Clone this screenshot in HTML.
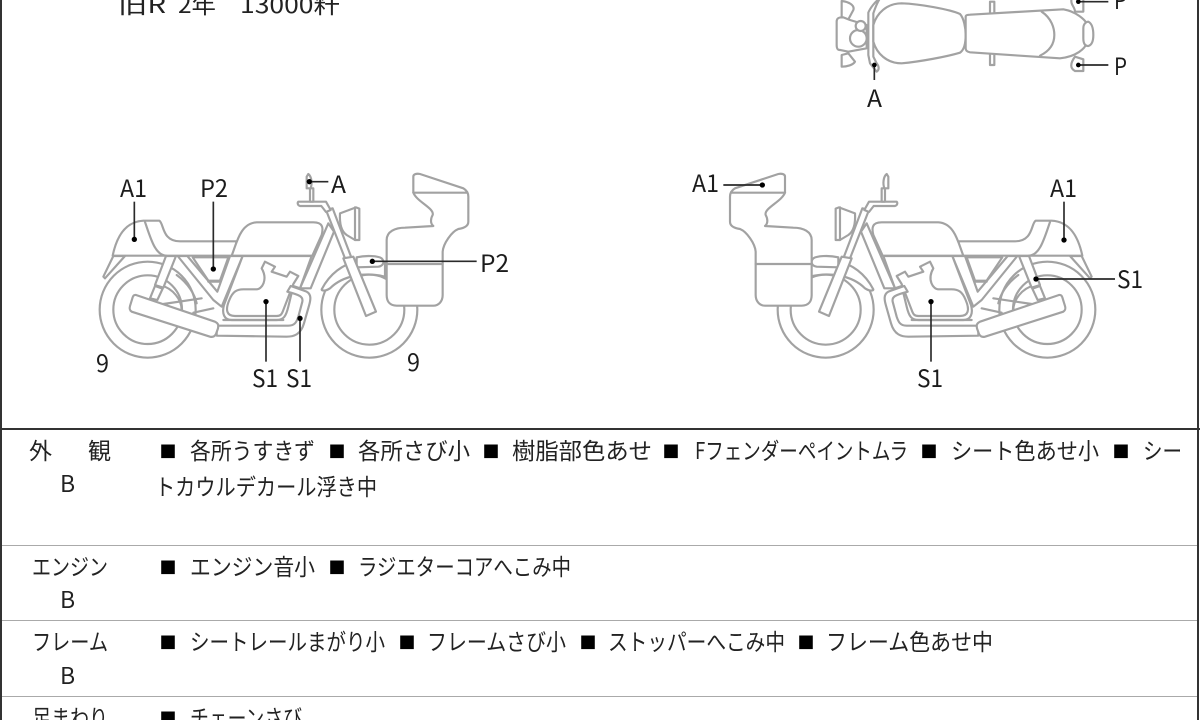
<!DOCTYPE html>
<html lang="ja"><head><meta charset="utf-8">
<style>
html,body{margin:0;padding:0;background:#fff;width:1200px;height:720px;overflow:hidden}
svg{display:block;filter:blur(.35px)}
text{font-family:"Liberation Sans","Noto Sans CJK JP",sans-serif;fill:#222}
.l{font-family:"Noto Sans CJK JP","Liberation Sans",sans-serif;font-size:24px;fill:#1c1c1c}
.t{font-family:"Noto Sans CJK JP",sans-serif;font-size:23px;font-weight:400;fill:#222}
.s{font-family:"Noto Sans CJK JP",sans-serif;font-size:17px;fill:#000}
.d path,.d circle,.d rect{fill:#fff;stroke:#a2a2a2;stroke-width:6.5;stroke-linejoin:round;stroke-linecap:round}
.d .n{fill:none}
.lead line{stroke:#2a2a2a;stroke-width:5}
.lead circle{fill:#000}
</style></head><body>
<svg width="1200" height="720" viewBox="0 0 1200 720" xmlns="http://www.w3.org/2000/svg">
<defs>
<g id="bike" class="d">
 <circle cx="203" cy="449" r="144"/><circle cx="203" cy="449" r="103"/>
 <circle cx="868" cy="449" r="144"/><circle cx="868" cy="449" r="105"/>
 <path class="n" d="M240,375C280,385 305,420 305,450"/>
 <path class="n" d="M290,345C325,370 345,405 350,430"/>
 <path d="M100,288L70,350L75,355L135,288Z"/>
 <path d="M258,288L288,288L250,383L225,375Z"/>
 <path d="M225,378L248,386L232,420L210,415Z"/>
 <path class="n" d="M250,432L365,415M340,458L400,445"/>
 <path d="M293,288L322,288L412,395L450,288L488,288L425,440L400,420Z"/>
 <path d="M338,292L445,292L420,362L385,362Z"/>
 <path class="n" d="M385,365L420,365"/>
 <path d="M488,288L695,288L660,385L640,378L625,440C618,470 610,480 590,480L455,480C432,480 425,460 432,435Z"/>
 <path d="M98,287C110,230 135,185 190,182L238,182C252,190 245,244 300,244L470,244L460,287Z"/>
 <path class="n" d="M195,186C212,235 225,285 258,287"/>
 <path d="M455,287C470,250 480,190 530,187L700,187C730,187 730,205 725,225L697,287Z"/>
 <path d="M545,325L555,305L585,320L575,335L620,350L630,335L655,348L640,372L610,450C605,465 600,468 590,468L465,468C440,468 435,450 448,420C458,395 470,388 490,388L530,388C545,388 565,360 545,325Z"/>
 <path d="M632,378L680,395C695,403 692,420 687,437L672,490C662,525 640,530 620,530L410,527L410,497L625,497C645,497 650,485 655,470L667,425C670,410 660,405 622,395Z"/>
 <path class="n" d="M430,480L610,480"/>
 <path d="M168,405L405,485C415,490 416,495 414,505L408,522C404,530 398,532 390,530L155,455C148,450 148,445 150,438L158,412C160,406 163,404 168,405Z"/>
 <path d="M745,190L762,215L692,385L660,385Z" />
 <path d="M725,388C750,340 790,312 830,305L915,305L915,350C860,335 790,345 750,385C735,395 725,392 725,388Z"/>
 <path d="M830,292C860,285 895,288 905,295C915,305 910,318 895,320L830,322Z"/>
 <path d="M738,150L758,145L815,295L795,295Z"/>
 <path d="M790,295L820,290L888,455L858,468Z"/>
 <path d="M655,125L738,125L752,150L738,156L724,138L660,138C652,135 652,128 655,125Z"/>
 <path d="M690,125L690,85L680,85L680,50L685,42C695,50 697,70 692,85L700,85L700,125Z"/>
 <path d="M780,160L828,142L838,146L838,240L825,240L800,225C785,215 778,195 780,160Z"/>
 <path class="n" d="M825,142L825,240"/>
</g>
<g id="case" class="d">
 <path d="M1000,98L1000,50C1000,42 1010,40 1020,42L1150,85C1162,92 1165,100 1165,110L1165,185C1165,200 1150,205 1135,207C1115,215 1090,250 1088,275L1088,405C1088,425 1075,437 1060,437L950,437C930,437 920,425 920,405L920,240C920,215 945,203 975,203L1060,198C1050,190 1052,175 1058,165C1064,145 1010,125 1000,98Z"/>
 <path class="n" d="M1000,98L1160,98"/>
 <path class="n" d="M920,312L1088,312"/>
</g>
</defs>

<!-- frame lines -->
<rect x="0" y="0" width="2" height="720" fill="#333"/>
<rect x="1197" y="0" width="2" height="720" fill="#333"/>
<rect x="0" y="428" width="1200" height="2" fill="#333"/>
<rect x="2" y="545" width="1195" height="1" fill="#aaa"/>
<rect x="2" y="620" width="1195" height="1" fill="#aaa"/>
<rect x="2" y="696" width="1195" height="1" fill="#aaa"/>

<text class="t" x="118" y="13" textLength="48" lengthAdjust="spacingAndGlyphs">旧R</text>
<text class="t" x="178" y="13" textLength="38" lengthAdjust="spacingAndGlyphs">2年</text>
<text class="t" x="240" y="13" textLength="100" lengthAdjust="spacingAndGlyphs">13000粁</text>

<!-- left bike -->
<g transform="translate(80,160) scale(.33333)">
 <use href="#bike"/><use href="#case"/>
 <g class="lead">
  <line x1="163" y1="125" x2="163" y2="238"/><circle cx="163" cy="238" r="8"/>
  <line x1="400" y1="125" x2="400" y2="327"/><circle cx="400" cy="327" r="8"/>
  <line x1="688" y1="65" x2="745" y2="65"/><circle cx="688" cy="65" r="8"/>
  <line x1="877" y1="304" x2="1190" y2="304"/><circle cx="877" cy="304" r="8"/>
  <line x1="558" y1="425" x2="558" y2="605"/><circle cx="558" cy="425" r="8"/>
  <line x1="660" y1="475" x2="660" y2="605"/><circle cx="660" cy="475" r="8"/>
 </g>
</g>
<!-- right bike -->
<g transform="translate(680,160) scale(.33333)">
 <g transform="translate(1305,0) scale(-1,1)"><use href="#bike"/></g>
 <g transform="translate(1315,0) scale(-1,1)"><use href="#case"/></g>
 <g class="lead">
  <line x1="130" y1="75" x2="247" y2="75"/><circle cx="247" cy="75" r="8"/>
  <line x1="1152" y1="125" x2="1152" y2="240"/><circle cx="1152" cy="240" r="8"/>
  <line x1="1068" y1="357" x2="1305" y2="357"/><circle cx="1068" cy="357" r="8"/>
  <line x1="753" y1="425" x2="753" y2="605"/><circle cx="753" cy="425" r="8"/>
 </g>
</g>
<!-- top view -->
<g transform="translate(820,0) scale(.33333)">
 <g class="d">
  <path d="M65,3C85,5 105,15 100,30L85,58L65,55Z"/>
  <path d="M65,165L85,160L105,185C100,195 80,200 65,200Z"/>
  <path d="M50,65C50,55 55,52 70,52L90,60L140,75L140,145L85,155L60,150C52,150 50,145 50,135Z"/>
  <circle cx="115" cy="115" r="25"/><circle cx="122" cy="78" r="15"/>
  <path d="M180,-5C165,5 150,25 145,38L145,165L150,190L170,215C178,210 178,200 170,190L160,170L160,40C165,25 170,10 180,-5Z"/>
  <path d="M510,5L523,5L523,195L510,195Z"/>
  <path d="M755,-5L790,-5L790,35L765,35C765,20 750,15 755,-5Z"/>
  <path d="M765,170L790,178L790,213L765,213C750,205 750,190 765,170Z"/>
  <path d="M160,75C170,40 200,10 245,10C300,12 390,28 420,42C432,55 437,85 437,105C437,130 432,150 420,158C380,170 300,185 245,190C200,190 170,160 160,125Z"/>
  <path d="M437,50C437,45 445,44 450,44L730,28C770,35 795,60 800,70L800,130C795,145 770,170 720,175L450,157C440,155 437,150 437,145Z"/>
  <path class="n" d="M665,35C695,55 703,85 703,105C703,125 695,150 660,167"/>
  <path d="M790,85C790,70 800,65 805,65C815,70 820,85 820,105C820,125 815,135 805,138C795,138 790,130 790,115Z"/>
 </g>
 <g class="lead">
  <line x1="163" y1="195" x2="163" y2="240"/><circle cx="163" cy="195" r="7"/>
  <line x1="775" y1="195" x2="865" y2="195"/><circle cx="775" cy="195" r="7"/>
  <line x1="775" y1="5" x2="865" y2="5"/><circle cx="775" cy="5" r="7"/>
 </g>
</g>

<!-- diagram labels -->
<text class="l" x="120" y="197" textLength="27" lengthAdjust="spacingAndGlyphs">A1</text>
<text class="l" x="200" y="197" textLength="28" lengthAdjust="spacingAndGlyphs">P2</text>
<text class="l" x="331" y="193" textLength="15" lengthAdjust="spacingAndGlyphs">A</text>
<text class="l" x="480" y="272" textLength="29" lengthAdjust="spacingAndGlyphs">P2</text>
<text class="l" x="96" y="372" textLength="13" lengthAdjust="spacingAndGlyphs">9</text>
<text class="l" x="407" y="371" textLength="13" lengthAdjust="spacingAndGlyphs">9</text>
<text class="l" x="252" y="387" textLength="26" lengthAdjust="spacingAndGlyphs">S1</text>
<text class="l" x="286" y="387" textLength="26" lengthAdjust="spacingAndGlyphs">S1</text>
<text class="l" x="692" y="192" textLength="27" lengthAdjust="spacingAndGlyphs">A1</text>
<text class="l" x="1050" y="197" textLength="27" lengthAdjust="spacingAndGlyphs">A1</text>
<text class="l" x="1117" y="288" textLength="26" lengthAdjust="spacingAndGlyphs">S1</text>
<text class="l" x="917" y="387" textLength="26" lengthAdjust="spacingAndGlyphs">S1</text>
<text class="l" x="867" y="107" textLength="15" lengthAdjust="spacingAndGlyphs">A</text>
<text class="l" x="1114" y="75" textLength="13" lengthAdjust="spacingAndGlyphs">P</text>
<text class="l" x="1114" y="9" textLength="13" lengthAdjust="spacingAndGlyphs">P</text>

<!-- table -->
<g>
<text class="t" x="29" y="459">外</text><text class="t" x="88" y="459">観</text>
<text class="t" x="60" y="492">B</text>
<text class="s" x="159.5" y="458">■</text>
<text class="t" x="190" y="459" textLength="125" lengthAdjust="spacingAndGlyphs">各所うすきず</text>
<text class="s" x="328.5" y="458">■</text>
<text class="t" x="358" y="459" textLength="112" lengthAdjust="spacingAndGlyphs">各所さび小</text>
<text class="s" x="482.5" y="458">■</text>
<text class="t" x="512" y="459" textLength="140" lengthAdjust="spacingAndGlyphs">樹脂部色あせ</text>
<text class="s" x="662.5" y="458">■</text>
<text class="t" x="695" y="459" textLength="213" lengthAdjust="spacingAndGlyphs">Fフェンダーペイントムラ</text>
<text class="s" x="920.5" y="458">■</text>
<text class="t" x="951" y="459" textLength="148" lengthAdjust="spacingAndGlyphs">シート色あせ小</text>
<text class="s" x="1112.5" y="458">■</text>
<text class="t" x="1143" y="459" textLength="39" lengthAdjust="spacingAndGlyphs">シー</text>
<text class="t" x="155" y="495" textLength="222" lengthAdjust="spacingAndGlyphs">トカウルデカール浮き中</text>

<text class="t" x="32" y="575" textLength="76" lengthAdjust="spacingAndGlyphs">エンジン</text>
<text class="t" x="60" y="608">B</text>
<text class="s" x="159.5" y="574">■</text>
<text class="t" x="190" y="575" textLength="125" lengthAdjust="spacingAndGlyphs">エンジン音小</text>
<text class="s" x="328.5" y="574">■</text>
<text class="t" x="358" y="575" textLength="213" lengthAdjust="spacingAndGlyphs">ラジエターコアへこみ中</text>

<text class="t" x="32" y="650" textLength="76" lengthAdjust="spacingAndGlyphs">フレーム</text>
<text class="t" x="60" y="684">B</text>
<text class="s" x="159.5" y="649">■</text>
<text class="t" x="190" y="650" textLength="195" lengthAdjust="spacingAndGlyphs">シートレールまがり小</text>
<text class="s" x="398.5" y="649">■</text>
<text class="t" x="427" y="650" textLength="139" lengthAdjust="spacingAndGlyphs">フレームさび小</text>
<text class="s" x="579.5" y="649">■</text>
<text class="t" x="608" y="650" textLength="177" lengthAdjust="spacingAndGlyphs">ストッパーへこみ中</text>
<text class="s" x="797.5" y="649">■</text>
<text class="t" x="826" y="650" textLength="167" lengthAdjust="spacingAndGlyphs">フレーム色あせ中</text>

<text class="t" x="32" y="726" textLength="76" lengthAdjust="spacingAndGlyphs">足まわり</text>
<text class="s" x="159.5" y="725">■</text>
<text class="t" x="190" y="726" textLength="112" lengthAdjust="spacingAndGlyphs">チェーンさび</text>
</g>
</svg>
</body></html>
